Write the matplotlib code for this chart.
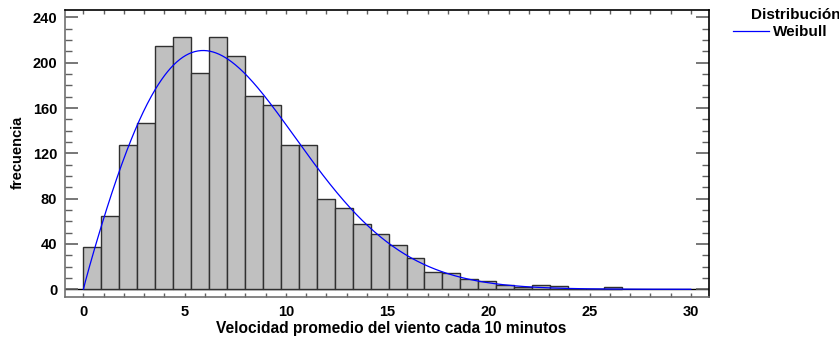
import numpy as np
import matplotlib
matplotlib.use("Agg")
import matplotlib.pyplot as plt

plt.rcParams['font.family'] = ['Liberation Sans', 'DejaVu Sans']
plt.rcParams['font.weight'] = 'bold'

# histogram: 30 equal bins between bin_lo and bin_hi
bin_lo = 0.0
bin_hi = 26.6
counts = [37, 65, 127, 147, 215, 223, 191, 223, 206, 171,
          163, 127, 127, 80, 72, 58, 49, 39, 28, 15,
          14, 9, 7, 4, 2, 4, 3, 0, 0, 2]

# fitted Weibull (shape, scale), drawn on 0..30
wb_shape = 1.95
wb_scale = 8.55
curve_x_max = 30

xticks = [0, 5, 10, 15, 20, 25, 30]
yticks = [0, 40, 80, 120, 160, 200, 240]

if __name__ == "__main__":
    edges = np.linspace(bin_lo, bin_hi, len(counts) + 1)
    bw = edges[1] - edges[0]
    n = sum(counts)

    fig = plt.figure(figsize=(8.39, 3.4), dpi=100)
    ax = fig.add_axes([65/839, 1 - 297/340, 644/839, 287/340])

    ax.bar(edges[:-1], counts, width=bw, align='edge',
           color='#c0c0c0', edgecolor='#303030', linewidth=1.0, zorder=2)

    x = np.linspace(0, curve_x_max, 600)
    k, lam = wb_shape, wb_scale
    pdf = (k / lam) * (x / lam) ** (k - 1) * np.exp(-(x / lam) ** k)
    line, = ax.plot(x, n * bw * pdf, color='#0000ff', linewidth=0.9, zorder=3)

    ax.axhline(0, color='black', linewidth=1.0, zorder=1)

    ax.set_xlim(-0.91, 30.9)
    ax.set_ylim(-6.8, 246.5)
    ax.set_xticks(xticks)
    ax.set_xticks(np.arange(0, 31, 1), minor=True)
    ax.set_yticks(yticks)
    ax.set_yticks(np.arange(0, 241, 10), minor=True)

    ax.tick_params(axis='both', which='both', direction='in', colors='#606060',
                   labelcolor='black', labelsize=10.5)
    ax.tick_params(axis='y', which='major', length=9.4, width=1.2, left=True, right=True, pad=5.5)
    ax.tick_params(axis='y', which='minor', length=4.8, width=1.0, left=True, right=True)
    ax.tick_params(axis='x', which='both', length=3, width=1.0, top=True, bottom=True, pad=5.5)
    for lab in ax.get_xticklabels() + ax.get_yticklabels():
        lab.set_fontweight('bold')

    for side in ['left', 'bottom']:
        ax.spines[side].set_color('#707070')
    for side in ['top', 'right']:
        ax.spines[side].set_color('black')
    for s in ax.spines.values():
        s.set_linewidth(1.2)

    ax.set_xlabel('Velocidad promedio del viento cada 10 minutos',
                  fontsize=11.2, fontweight='bold', labelpad=3)
    ax.xaxis.set_label_coords((391 - 65) / 644, -0.085)
    fig.text(18/839, 1 - 152/340, 'frecuencia', rotation=90, ha='center',
             va='center', fontsize=10.5, fontweight='bold')

    fig.text(751/839, 1 - 15/340, 'Distribución', ha='left', va='center',
             fontsize=11, fontweight='bold')
    fig.legend([line], ['Weibull'], loc='center left',
               bbox_to_anchor=(725/839, 1 - 32/340), frameon=False,
               handlelength=2.4, handletextpad=0.25, borderpad=0,
               prop={'weight': 'bold', 'size': 11})

    plt.savefig("out.png", dpi=100)
